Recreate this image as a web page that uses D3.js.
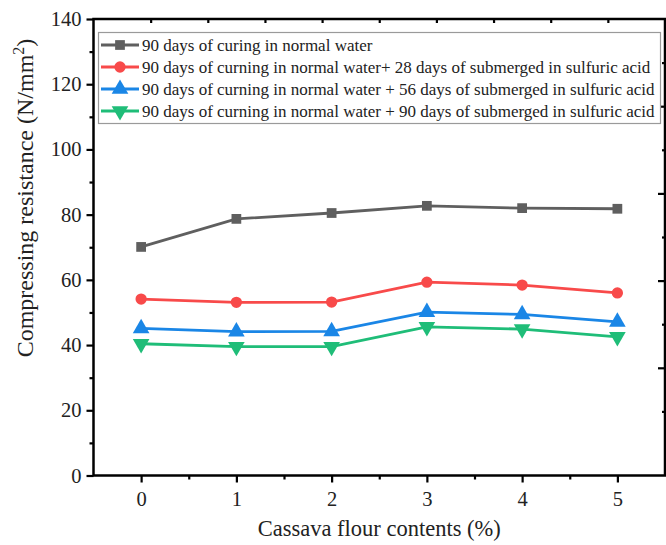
<!DOCTYPE html>
<html>
<head>
<meta charset="utf-8">
<script src="https://cdn.jsdelivr.net/npm/d3@7"></script>
<style>
  html, body { margin: 0; padding: 0; background: #fff; }
  svg { display: block; }
</style>
</head>
<body>
<svg id="chart" width="666" height="545"></svg>
<script>
// ---------- data ----------
const categories = [0, 1, 2, 3, 4, 5];
const seriesNames = [
  "90 days of curing in normal water",
  "90 days of curning in normal water+ 28 days of submerged in sulfuric acid",
  "90 days of curning in normal water + 56 days of submerged in sulfuric acid",
  "90 days of curning in normal water + 90 days of submerged in sulfuric acid"
];
const water90 = [70.1, 78.7, 80.5, 82.7, 82.0, 81.8];
const acid28  = [54.1, 53.1, 53.2, 59.3, 58.4, 56.0];
const acid56  = [45.1, 44.1, 44.2, 50.1, 49.4, 47.1];
const acid90  = [40.4, 39.5, 39.5, 45.6, 44.9, 42.5];
const yTicks = [0, 20, 40, 60, 80, 100, 120, 140];
const yMinorTicks = [10, 30, 50, 70, 90, 110, 130];
const xMinorTicks = [0.5, 1.5, 2.5, 3.5, 4.5];
const xLabel = "Cassava flour contents (%)";
const yLabel = "Compressing resistance (N/mm";

// ---------- styles ----------
const FONT = "'Liberation Serif', 'Times New Roman', Times, 'DejaVu Serif', serif";
const colors = ["#5f5f5f", "#f84a4a", "#1a86e6", "#1fbd78"];
const symbols = [d3.symbolSquare, d3.symbolCircle, d3.symbolTriangle, d3.symbolTriangle];
const symSizes = [95, 100, 120, 120];
const symRot = [0, 0, 0, 180];
const allSeries = [water90, acid28, acid56, acid90];

const svg = d3.select("#chart");
svg.append("rect").attr("width", 666).attr("height", 545).attr("fill", "#fff");

const L = 93.5, R = 665, T = 19, B = 475.5;
const x = d3.scaleLinear().domain([-0.5, 5.5]).range([L, R]);
const y = d3.scaleLinear().domain([0, 140]).range([B, T]);
const xTop = d3.scaleLinear().domain([0, 10]).range([L, R]);
const yRight = d3.scaleLinear().domain([0, 5]).range([455, T]);

function styleAxis(g) {
  g.attr("font-family", FONT);
  g.select(".domain").remove();
  g.selectAll(".tick line").attr("stroke", "#000").attr("stroke-width", 2.2);
  g.selectAll(".tick text").attr("font-family", FONT).style("font-family", FONT)
    .style("font-size", "20.5px").attr("fill", "#222");
}

// bottom axis
svg.append("g").attr("transform", `translate(0,${B})`)
  .call(d3.axisBottom(x).tickValues(categories).tickSize(7).tickPadding(9).tickFormat(d3.format("d")))
  .call(styleAxis);
svg.append("g").attr("transform", `translate(0,${B})`)
  .call(d3.axisBottom(x).tickValues(xMinorTicks).tickSize(4).tickFormat(""))
  .call(styleAxis);

// left axis
svg.append("g").attr("transform", `translate(${L},0)`)
  .call(d3.axisLeft(y).tickValues(yTicks).tickSize(7).tickPadding(5))
  .call(styleAxis);
svg.append("g").attr("transform", `translate(${L},0)`)
  .call(d3.axisLeft(y).tickValues(yMinorTicks).tickSize(4).tickFormat(""))
  .call(styleAxis);

// top axis (inward ticks, no labels)
svg.append("g").attr("transform", `translate(0,${T})`)
  .call(d3.axisBottom(xTop).tickValues(d3.range(1, 10)).tickSize(4).tickFormat(""))
  .call(styleAxis);

// right axis (inward ticks, no labels)
svg.append("g").attr("transform", `translate(${R},0)`)
  .call(d3.axisLeft(yRight).tickValues([1, 2, 3, 4]).tickSize(7).tickFormat(""))
  .call(styleAxis);
svg.append("g").attr("transform", `translate(${R},0)`)
  .call(d3.axisLeft(yRight).tickValues([0.5, 1.5, 2.5, 3.5, 4.5]).tickSize(3).tickFormat(""))
  .call(styleAxis);

// frame
svg.append("rect").attr("x", L).attr("y", T).attr("width", R - L).attr("height", B - T)
  .attr("fill", "none").attr("stroke", "#000").attr("stroke-width", 2.5);

// series
const line = d3.line().x((d, i) => x(categories[i])).y(d => y(d));
allSeries.forEach((vals, s) => {
  svg.append("path").datum(vals).attr("d", line)
    .attr("fill", "none").attr("stroke", colors[s]).attr("stroke-width", 2.8);
  svg.append("g").selectAll("path").data(vals).join("path")
    .attr("d", d3.symbol().type(symbols[s]).size(symSizes[s]))
    .attr("transform", (d, i) => `translate(${x(categories[i])},${y(d)}) rotate(${symRot[s]})`)
    .attr("fill", colors[s]);
});

// legend
const lg = svg.append("g");
lg.append("rect").attr("x", 98.5).attr("y", 32.5).attr("width", 562).attr("height", 91)
  .attr("fill", "#fff").attr("stroke", "#9a9a9a").attr("stroke-width", 1.2);
seriesNames.forEach((name, s) => {
  const cy = 45 + s * 22;
  lg.append("line").attr("x1", 101).attr("x2", 139).attr("y1", cy).attr("y2", cy)
    .attr("stroke", colors[s]).attr("stroke-width", 2.8);
  lg.append("path").attr("d", d3.symbol().type(symbols[s]).size(symSizes[s]))
    .attr("transform", `translate(120,${cy}) rotate(${symRot[s]})`).attr("fill", colors[s]);
  lg.append("text").attr("x", 142).attr("y", cy + 6).attr("font-family", FONT)
    .attr("font-size", 17).attr("fill", "#222").text(name);
});

// axis titles
svg.append("text").attr("x", (L + R) / 2).attr("y", 536).attr("text-anchor", "middle")
  .attr("font-family", FONT).attr("font-size", 22.5).attr("fill", "#222").text(xLabel);
const yt = svg.append("text").attr("transform", `translate(33,198) rotate(-90)`)
  .attr("text-anchor", "middle").attr("font-family", FONT).attr("font-size", 24).attr("fill", "#222");
yt.append("tspan").text(yLabel);
yt.append("tspan").attr("dy", -9).attr("font-size", 16).text("2");
yt.append("tspan").attr("dy", 9).text(")");
</script>
</body>
</html>
